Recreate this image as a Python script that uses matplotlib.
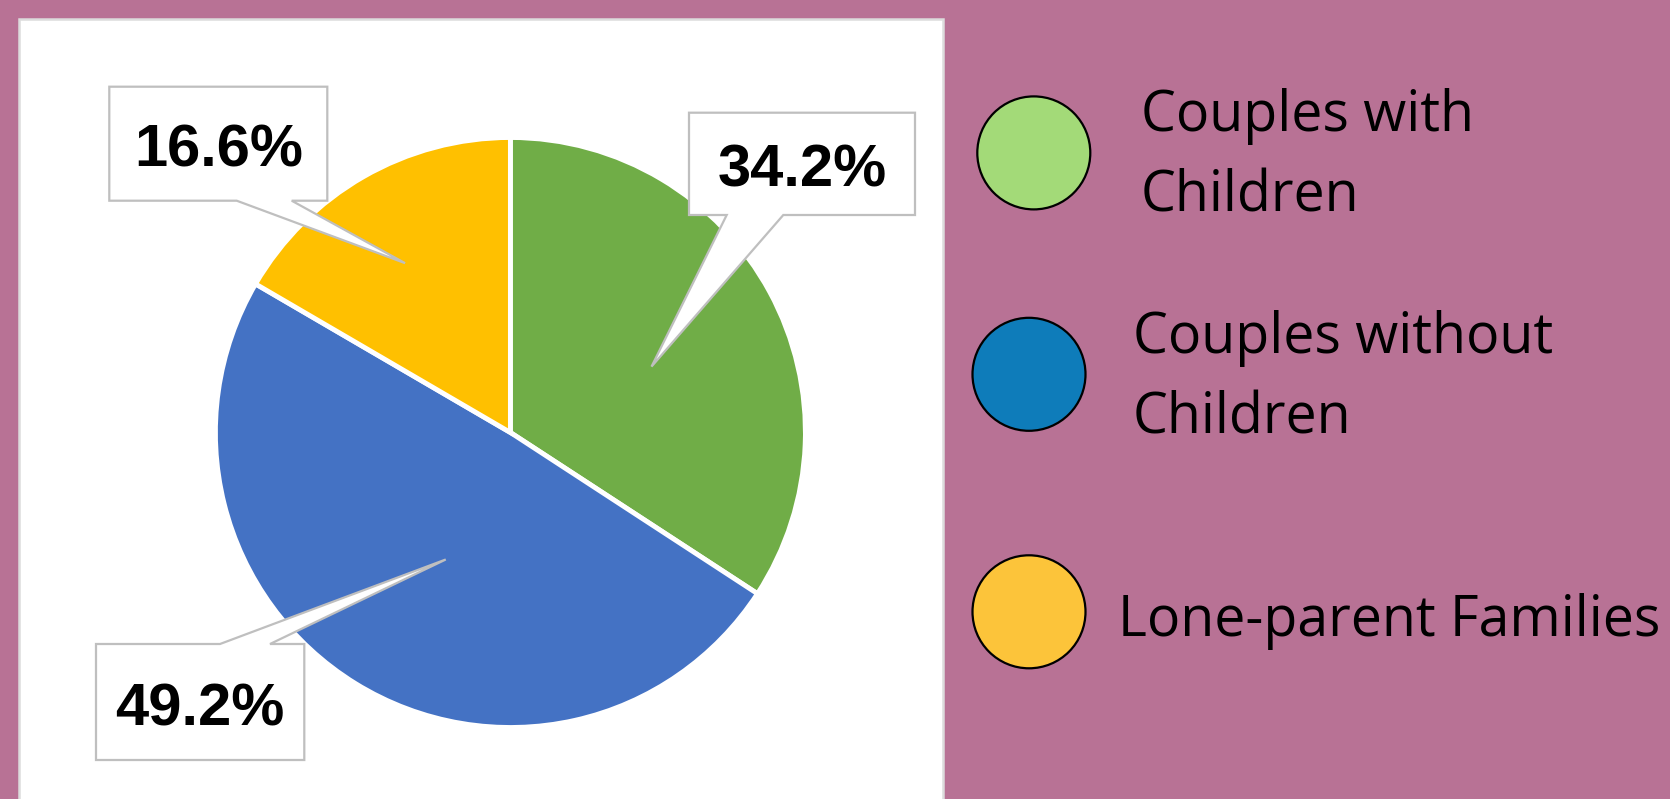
import numpy as np
import matplotlib
matplotlib.use("Agg")
import matplotlib.pyplot as plt
from matplotlib.patches import Rectangle, Circle, Polygon

# ---- data ----
categories = ["Couples with Children", "Couples without Children", "Lone-parent Families"]
shares = [34.2, 49.2, 16.6]
legend_labels = ["Couples with\nChildren", "Couples without\nChildren", "Lone-parent Families"]

# ---- style ----
W, H = 1670, 799
BG = "#B87295"
pie_colors = ["#70AD47", "#4472C4", "#FFC000"]
legend_colors = ["#A3DA78", "#0E7CBA", "#FCC43A"]

fig = plt.figure(figsize=(W / 100, H / 100), dpi=100)
fig.patch.set_facecolor(BG)
ax = fig.add_axes([0, 0, 1, 1])


def Y(y):
    return H - y


# white panel
ax.add_patch(Rectangle((19, Y(802)), 924, 783, facecolor="white",
                       edgecolor="#DCDCDC", lw=1.8, zorder=0))

# pie
cx, cy, R = 510.4, Y(432.5), 295
wedges, _ = ax.pie(shares, colors=pie_colors, startangle=90, counterclock=False,
                   center=(cx, cy), radius=R, frame=True,
                   wedgeprops=dict(edgecolor="white", linewidth=3.5, zorder=1))

# callout labels
mids = []
theta = 90.0
for v in shares:
    span = v / 100 * 360
    mids.append(theta - span / 2)
    theta -= span

tip_r = [0.528, 0.483, 0.676]
tip_dang = [-3.4, 4.7, 2.0]
boxes = [(689, 112.7, 915, 215), (96, 644, 304.3, 760), (109.3, 86.7, 327.3, 200.7)]
bases = [(726.7, 783.3), (220, 270), (236.7, 291.7)]
sides = ["bottom", "top", "bottom"]

for v, m, r, da, (x0, y0, x1, y1), (b0, b1), side in zip(shares, mids, tip_r, tip_dang, boxes, bases, sides):
    a = np.radians(m + da)
    tip = (cx + r * R * np.cos(a), cy + r * R * np.sin(a))
    if side == "bottom":
        pts = [(x0, Y(y0)), (x1, Y(y0)), (x1, Y(y1)), (b1, Y(y1)), tip, (b0, Y(y1)), (x0, Y(y1))]
    else:
        pts = [(x0, Y(y0)), (b0, Y(y0)), tip, (b1, Y(y0)), (x1, Y(y0)), (x1, Y(y1)), (x0, Y(y1))]
    ax.add_patch(Polygon(pts, closed=True, facecolor="white", edgecolor="#BFBFBF",
                         lw=1.6, joinstyle="miter", zorder=3))
    ax.text((x0 + x1) / 2, Y((y0 + y1) / 2 + 23), f"{v:.1f}%", ha="center", va="baseline",
            fontsize=43, fontweight="bold", family="Liberation Sans", color="black", zorder=4)

# legend (text y = baseline of the last line)
leg_centers = [(1033.8, 152.9), (1029, 374.3), (1029, 611.8)]
leg_text_pos = [(1141, 211), (1133, 433.5), (1118, 635.5)]
for lab, col, (lx, ly), (tx, ty) in zip(legend_labels, legend_colors, leg_centers, leg_text_pos):
    ax.add_patch(Circle((lx, Y(ly)), 56.5, facecolor=col, edgecolor="black", lw=1.6, zorder=2))
    ax.text(tx, Y(ty), lab, ha="left", va="baseline", fontsize=40, family="Open Sans",
            color="black", linespacing=1.535, zorder=4)

ax.set_xlim(0, W)
ax.set_ylim(0, H)
ax.set_aspect("auto")
ax.axis("off")

fig.savefig("out.png", dpi=100, facecolor=BG)
